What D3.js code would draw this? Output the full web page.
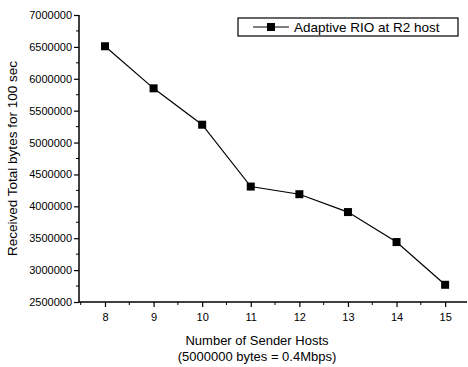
<!DOCTYPE html>
<html><head><meta charset="utf-8">
<script src="https://cdn.jsdelivr.net/npm/d3@7"></script>
<style>body{margin:0;background:#fff}svg{display:block}text{font-family:"Liberation Sans",Arial,sans-serif;fill:#000}</style>
</head><body><svg id="c" width="468" height="367"></svg>
<script>
const hosts = [8, 9, 10, 11, 12, 13, 14, 15];
const bytesReceived = [6510000, 5850000, 5280000, 4310000, 4190000, 3910000, 3440000, 2770000];
const yTicks = [2500000, 3000000, 3500000, 4000000, 4500000, 5000000, 5500000, 6000000, 6500000, 7000000];
const seriesName = "Adaptive RIO at R2 host";
const xTitle = "Number of Sender Hosts";
const xSubTitle = "(5000000 bytes = 0.4Mbps)";
const yTitle = "Received Total bytes for 100 sec";

const svg = d3.select("#c");
const L = 79, R = 467, T = 15, B = 302;
const x = d3.scaleLinear().domain([7.465, 15.45]).range([L, R]);
const y = d3.scaleLinear().domain([2500000, 7000000]).range([B, T]);

// minor ticks
const yMinor = d3.range(2750000, 7000000, 500000);
const xMinor = d3.range(7.5, 15.5, 1);
const g = svg.append("g");
g.selectAll(".ym").data(yMinor).join("line")
  .attr("x1", L - 3).attr("x2", L).attr("y1", d => y(d)).attr("y2", d => y(d))
  .attr("stroke", "#000").attr("stroke-width", 1);
g.selectAll(".xm").data(xMinor).join("line")
  .attr("x1", d => x(d)).attr("x2", d => x(d)).attr("y1", B).attr("y2", B + 3)
  .attr("stroke", "#000").attr("stroke-width", 1);

const yAxis = svg.append("g").attr("transform", `translate(${L},0)`)
  .call(d3.axisLeft(y).tickValues(yTicks).tickFormat(d3.format("d")).tickSize(5).tickPadding(2));
const xAxis = svg.append("g").attr("transform", `translate(0,${B})`)
  .call(d3.axisBottom(x).tickValues(hosts).tickFormat(d3.format("d")).tickSize(5).tickPadding(6));
[yAxis, xAxis].forEach(a => {
  a.selectAll("path").attr("stroke", "#000").attr("stroke-width", 1.5);
  a.selectAll("line").attr("stroke", "#000").attr("stroke-width", 1.2);
  a.selectAll("text").attr("font-size", 11).attr("fill", "#000")
    .style("font-family", '"Liberation Sans",Arial,sans-serif');
});
yAxis.select("path").attr("d", `M0,${B}V${T}`);
xAxis.select("path").attr("d", `M${L},0H${R}`);

// line
const line = d3.line().x((d, i) => x(hosts[i])).y(d => y(d));
svg.append("path").datum(bytesReceived).attr("d", line)
  .attr("fill", "none").attr("stroke", "#000").attr("stroke-width", 1.2);
svg.selectAll(".pt").data(bytesReceived).join("rect")
  .attr("x", (d, i) => x(hosts[i]) - 4).attr("y", d => y(d) - 4)
  .attr("width", 8).attr("height", 8).attr("fill", "#000");

// titles
svg.append("text").attr("transform", `translate(17,${(T + B) / 2}) rotate(-90)`)
  .attr("text-anchor", "middle").attr("font-size", 13.5).text(yTitle);
svg.append("text").attr("x", 257).attr("y", 345).attr("text-anchor", "middle")
  .attr("font-size", 13).text(xTitle);
svg.append("text").attr("x", 257).attr("y", 361).attr("text-anchor", "middle")
  .attr("font-size", 13).text(xSubTitle);

// legend
const lg = svg.append("g");
lg.append("rect").attr("x", 238).attr("y", 18).attr("width", 220).attr("height", 18)
  .attr("fill", "#fff").attr("stroke", "#000").attr("stroke-width", 1.2);
lg.append("line").attr("x1", 253).attr("x2", 289).attr("y1", 27).attr("y2", 27)
  .attr("stroke", "#000").attr("stroke-width", 1.2);
lg.append("rect").attr("x", 267).attr("y", 23).attr("width", 8).attr("height", 8).attr("fill", "#000");
lg.append("text").attr("x", 294).attr("y", 32).attr("font-size", 13.5).text(seriesName);
</script></body></html>
